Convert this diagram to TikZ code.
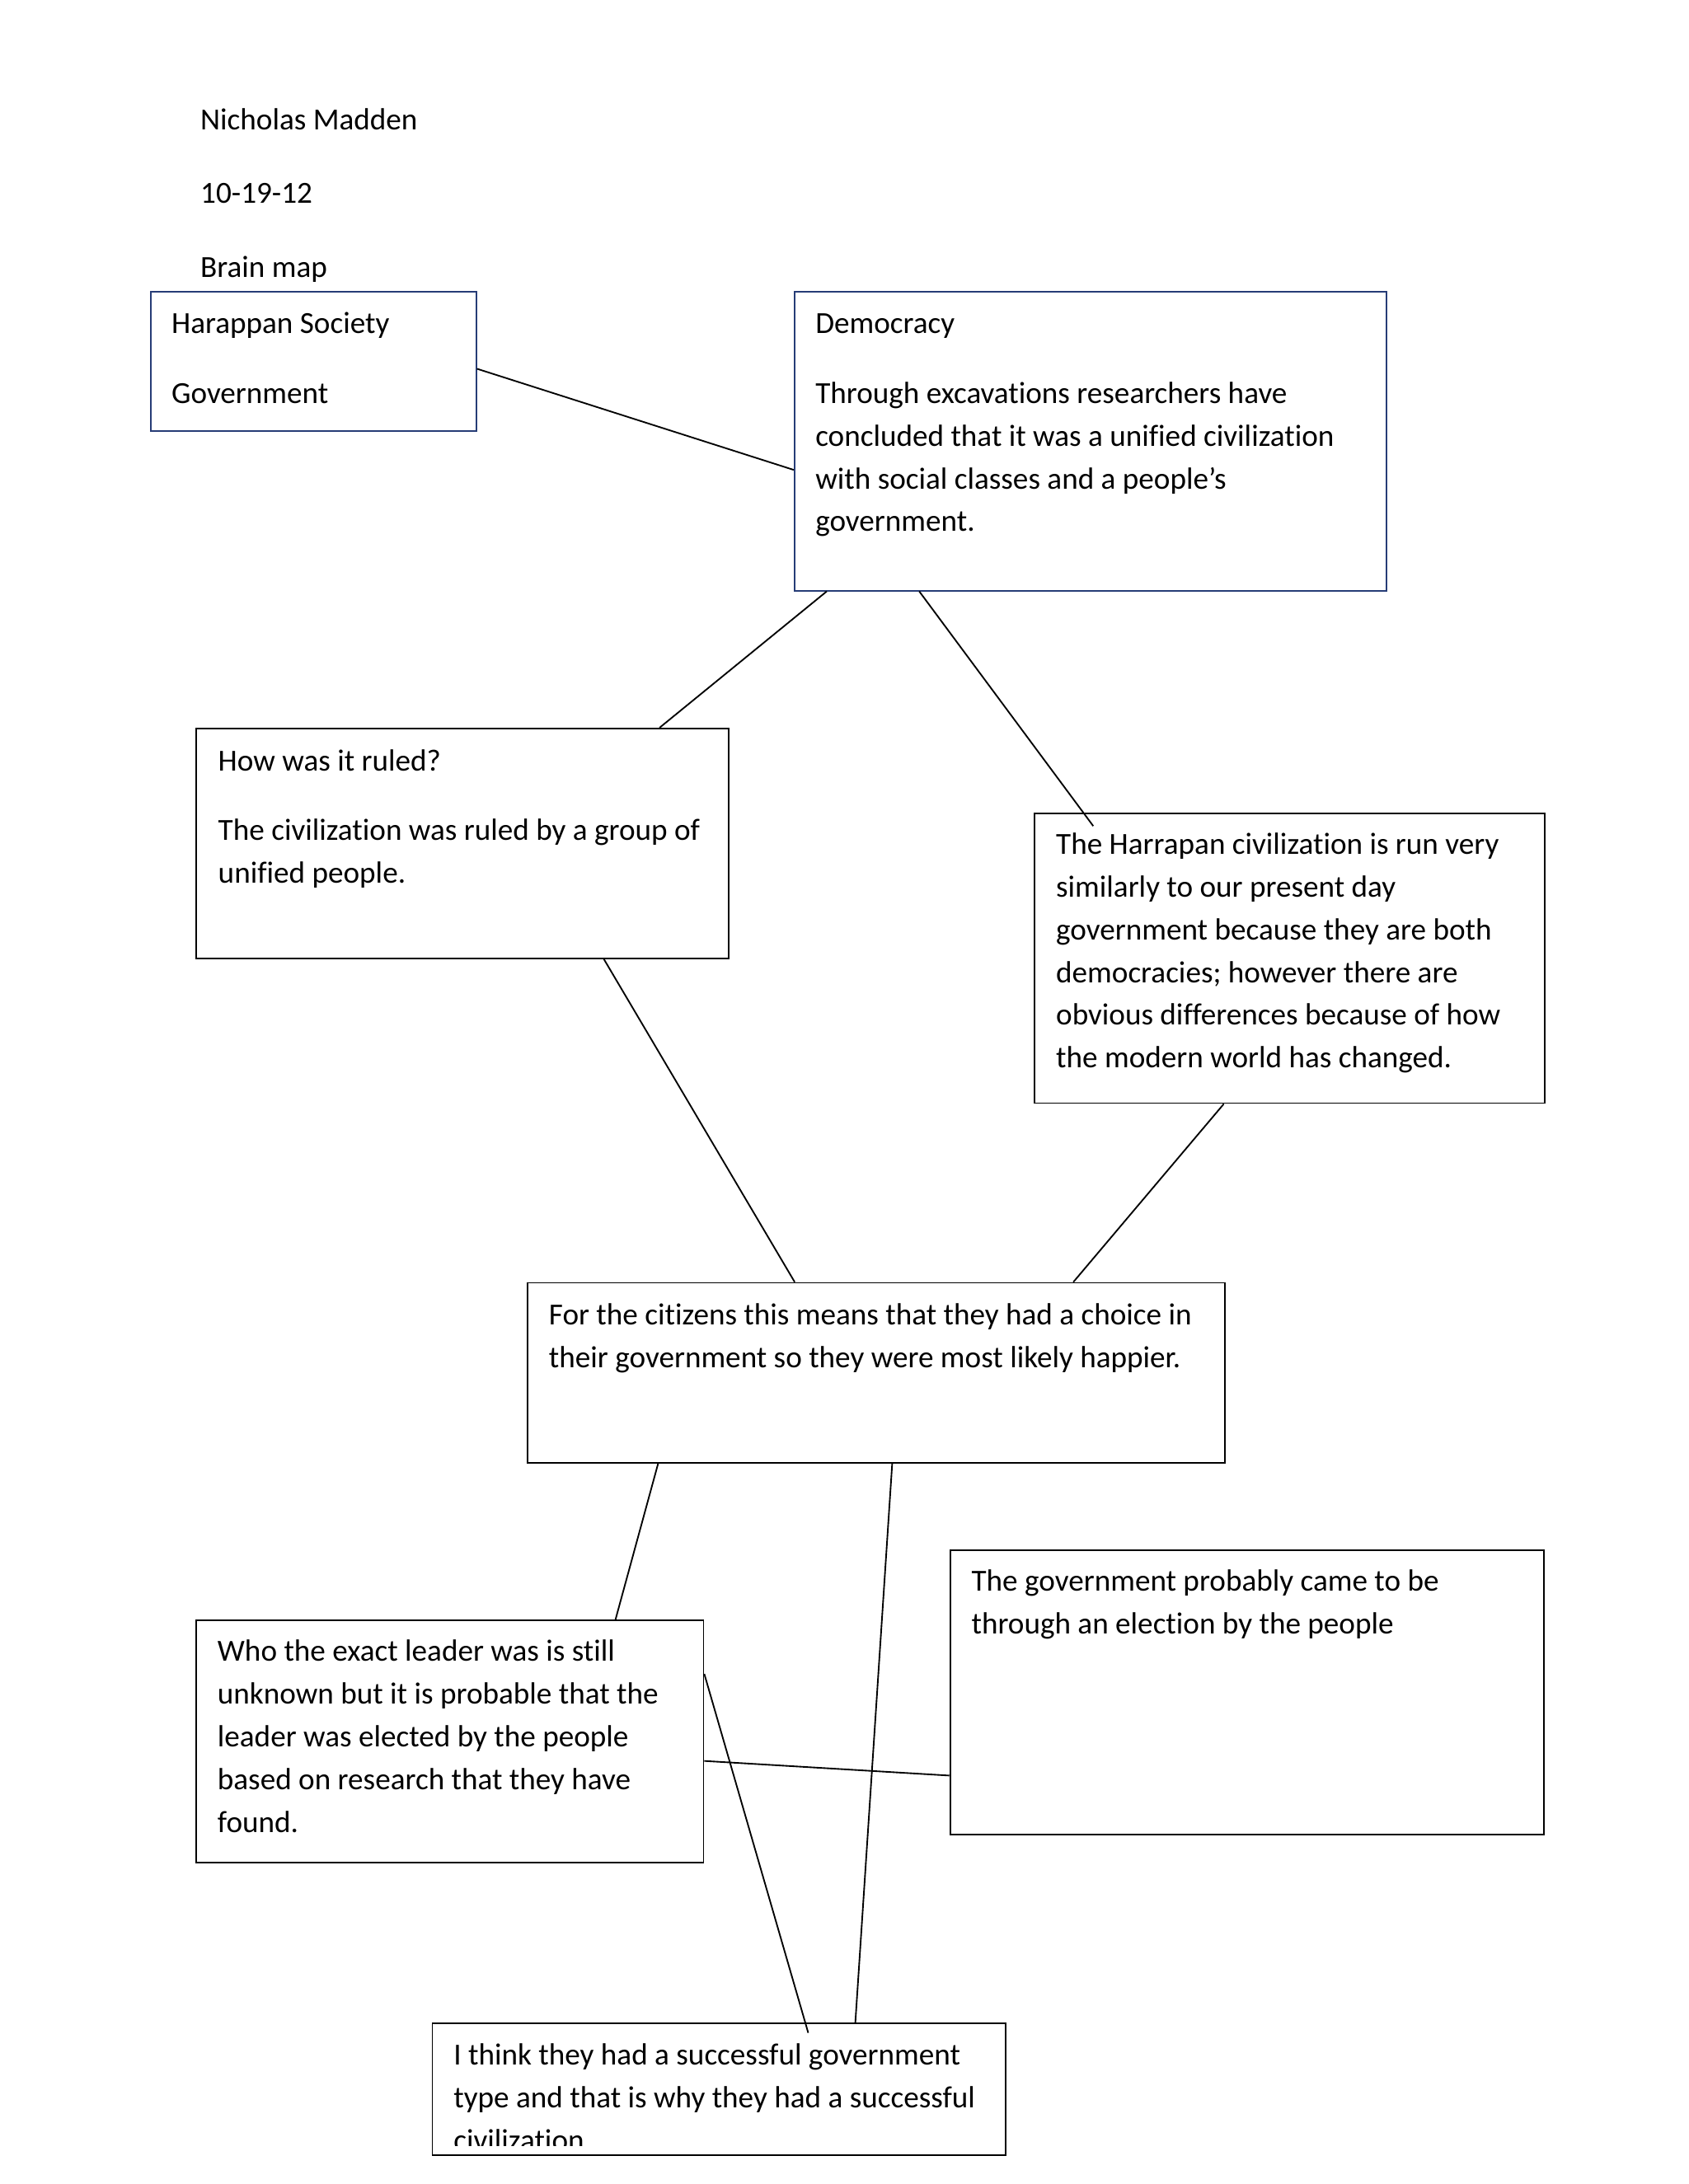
\documentclass[tikz,border=0pt]{standalone}
\usepackage{fontspec}
\setmainfont{Carlito}[Ligatures=NoCommon]
\usetikzlibrary{calc,fit}
\definecolor{boxnavy}{RGB}{38,60,118}

\begin{document}
\begin{tikzpicture}[x=0.5pt, y=-0.5pt,
    box/.style={rectangle, draw=black, line width=0.55pt, inner sep=0pt},
    navybox/.style={box, draw=boxnavy},
    txt/.style={anchor=north west, inner sep=0pt, align=left,
                font=\fontsize{11pt}{15.35pt}\selectfont},
    link/.style={draw=black, line width=0.55pt}
  ]
  \path[use as bounding box, fill=white] (0,0) rectangle (1212,1568);

  % heading
  \node[txt] (head) at (143.5,71.2) {\strut Nicholas Madden\\[11.15pt]10-19-12\\[11.15pt]Brain map};

  % boxes
  \node[navybox, fit={(108.3,209.7)(341.8,309.3)}] (society) {};
  \node[navybox, fit={(570.3,209.7)(995,424)}] (demo) {};
  \node[box, fit={(141,523)(523,688)}] (ruled) {};
  \node[box, fit={(742.7,584)(1109,792)}] (similar) {};
  \node[box, fit={(378.7,921)(879,1050)}] (citizens) {};
  \node[box, fit={(682,1113)(1108,1317)}] (election) {};
  \node[box, fit={(140.8,1163.5)(505,1337)}] (leader) {};
  \node[box, fit={(310.3,1452.8)(722,1547.5)}] (success) {};

  % texts
  \node[txt] (societytxt) at ($(society.north west)+(15,8.5)$)
    {\strut Harappan Society\\[9.65pt]Government};
  \node[txt] (demotxt) at ($(demo.north west)+(15.2,8.5)$)
    {\strut Democracy\\[9.65pt]Through excavations researchers have\\concluded that it was a unified civilization\\with social classes and a people’s\\government.};
  \node[txt] (ruledtxt) at ($(ruled.north west)+(15.8,9)$)
    {\strut How was it ruled?\\[9.65pt]The civilization was ruled by a group of\\unified people.};
  \node[txt] (similartxt) at ($(similar.north west)+(15.5,7.9)$)
    {\strut The Harrapan civilization is run very\\similarly to our present day\\government because they are both\\democracies; however there are\\obvious differences because of how\\the modern world has changed.};
  \node[txt] (citizenstxt) at ($(citizens.north west)+(15.5,9)$)
    {\strut For the citizens this means that they had a choice in\\their government so they were most likely happier.};
  \node[txt] (electiontxt) at ($(election.north west)+(15.5,8.2)$)
    {\strut The government probably came to be\\through an election by the people};
  \node[txt] (leadertxt) at ($(leader.north west)+(15.5,8)$)
    {\strut Who the exact leader was is still\\unknown but it is probable that the\\leader was elected by the people\\based on research that they have\\found.};
  \begin{scope}
    \clip (success.north west) rectangle ($(success.south east)+(0,-7.5)$);
    \node[txt] (successtxt) at ($(success.north west)+(15.5,8.3)$)
      {\strut I think they had a successful government\\type and that is why they had a successful\\civilization.};
  \end{scope}

  % connectors
  \draw[link] ($(society.north east)+(0,55.6)$) -- ($(demo.north west)+(0,128.2)$);
  \draw[link] ($(demo.south west)+(23.7,0)$) -- ($(ruled.north west)+(333,0)$);
  \draw[link] ($(demo.south west)+(90.1,0)$) -- ($(similar.north west)+(42.6,9.6)$);
  \draw[link] ($(ruled.south west)+(293,0)$) -- ($(citizens.north west)+(192.3,0)$);
  \draw[link] ($(similar.south west)+(136.3,0)$) -- ($(citizens.north west)+(392.3,0)$);
  \draw[link] ($(citizens.south west)+(94.3,0)$) -- ($(leader.north west)+(301.5,0)$);
  \draw[link] ($(citizens.south west)+(262.3,0)$) -- ($(success.north west)+(304.2,0)$);
  \draw[link] ($(leader.north east)+(0,38.8)$) -- ($(success.north west)+(270.4,7.2)$);
  \draw[link] ($(leader.north east)+(0,101.3)$) -- ($(election.north west)+(0,162.3)$);
\end{tikzpicture}
\end{document}
